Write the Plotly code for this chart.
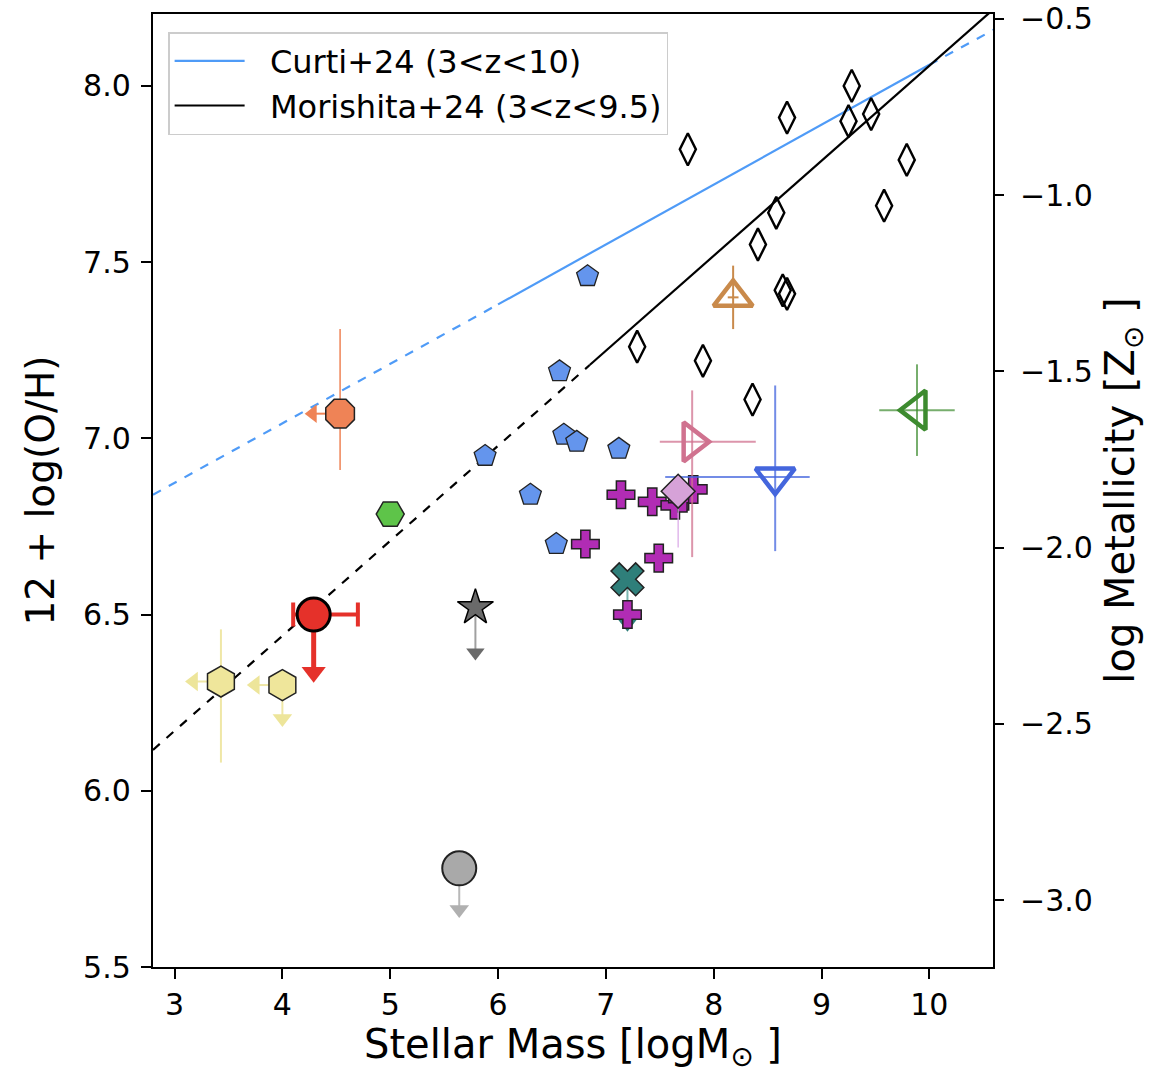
import plotly.graph_objects as go

# ---------------- data ----------------
# Scaling relations
curti_x = [2.8, 6.0, 10.0, 10.6]
curti_y = [6.84, 7.38, 8.06, 8.16]
mor_x = [2.8, 6.85, 10.6]
mor_y = [6.116, 7.208, 8.219]

# Morishita+24 individual galaxies (open thin diamonds)
mor_gal_mass = [7.76, 8.68, 9.28, 9.25, 9.46, 9.79, 9.58, 8.58, 8.41, 8.64, 8.68, 7.29, 7.90, 8.36]
mor_gal_oh = [7.82, 7.91, 8.00, 7.90, 7.92, 7.79, 7.66, 7.64, 7.55, 7.42, 7.41, 7.26, 7.22, 7.11]

# blue pentagons
pent_mass = [6.83, 6.57, 6.61, 6.73, 7.12, 5.88, 6.30, 6.54]
pent_oh = [7.46, 7.19, 7.01, 6.99, 6.97, 6.95, 6.84, 6.70]

# purple plus markers
plus_mass = [7.14, 7.43, 7.64, 7.71, 7.81, 6.81, 7.49, 7.20]
plus_oh = [6.84, 6.82, 6.81, 6.83, 6.855, 6.70, 6.66, 6.50]

# individual objects
teal_x = [7.20]; teal_y = [6.60]; teal_lim = [6.474]
lav_x = [7.67]; lav_y = [6.85]; lav_yerr_p = [0.03]; lav_yerr_m = [0.16]
pink_x = [7.80]; pink_y = [6.99]; pink_xerr_p = [0.59]; pink_xerr_m = [0.30]; pink_yerr_p = [0.146]; pink_yerr_m = [0.327]
bv_x = [8.57]; bv_y = [6.89]; bv_xerr_p = [0.32]; bv_xerr_m = [1.02]; bv_yerr_p = [0.26]; bv_yerr_m = [0.21]
br_x = [8.18]; br_y = [7.40]; br_xerr = [0.05]; br_yerr = [0.09]
gr_x = [9.885]; gr_y = [7.08]; gr_xerr = [0.35]; gr_yerr = [0.13]
oct_x = [4.535]; oct_y = [7.07]; oct_yerr_p = [0.24]; oct_yerr_m = [0.16]; oct_xlim = [4.281]
ghex_x = [5.0]; ghex_y = [6.785]
red_x = [4.29]; red_y = [6.50]; red_xerr_p = [0.41]; red_xerr_m = [0.19]; red_ylim = [6.336]
star_x = [5.79]; star_y = [6.52]; star_ylim = [6.392]
yh1_x = [3.43]; yh1_y = [6.31]; yh1_yerr_p = [0.148]; yh1_yerr_m = [0.23]; yh1_xlim = [3.176]
yh2_x = [4.0]; yh2_y = [6.30]; yh2_xlim = [3.749]; yh2_ylim = [6.205]
gc_x = [5.64]; gc_y = [5.78]; gc_ylim = [5.663]

ZSUN = 8.69  # 12+log(O/H) of the Sun, for the right axis
x_range = [2.80, 10.59]
y_range = [5.5, 8.204]
x_ticks = [3, 4, 5, 6, 7, 8, 9, 10]
y_ticks = [5.5, 6.0, 6.5, 7.0, 7.5, 8.0]
y2_ticks = [-3.0, -2.5, -2.0, -1.5, -1.0, -0.5]

FONT = "DejaVu Sans"
NB = "\u00a0"
fig = go.Figure()

def add(**kw):
    kw.setdefault("showlegend", False)
    kw.setdefault("hoverinfo", "skip")
    fig.add_trace(go.Scatter(**kw))

# relations
BLUE = "#4f9bf7"
add(x=curti_x[:2], y=curti_y[:2], mode="lines", line=dict(color=BLUE, width=2.2, dash="dash"))
add(x=curti_x[1:3], y=curti_y[1:3], mode="lines", line=dict(color=BLUE, width=2.2),
    name=NB * 2 + "Curti+24 (3<z<10)", showlegend=True)
add(x=curti_x[2:], y=curti_y[2:], mode="lines", line=dict(color=BLUE, width=2.2, dash="dash"))
add(x=mor_x[:2], y=mor_y[:2], mode="lines", line=dict(color="black", width=2.2, dash="dash"))
add(x=mor_x[1:], y=mor_y[1:], mode="lines", line=dict(color="black", width=2.2),
    name=NB * 2 + "Morishita+24 (3<z<9.5)", showlegend=True)

# Morishita galaxies
add(x=mor_gal_mass, y=mor_gal_oh, mode="markers",
    marker=dict(symbol="diamond-tall-open", size=23, color="black", line=dict(width=2.4, color="black")))

# limit arrows (lines then heads)
def vlim(x, y, yl, lcol, hcol, lw, hs):
    add(x=[x[0], x[0]], y=[y[0], yl[0]], mode="lines", line=dict(color=lcol, width=lw))
    add(x=x, y=yl, mode="markers", marker=dict(symbol="triangle-down", size=hs, color=hcol, line=dict(width=0)))

def hlim(x, y, xl, lcol, hcol, lw, hs):
    add(x=[x[0], xl[0]], y=[y[0], y[0]], mode="lines", line=dict(color=lcol, width=lw))
    add(x=xl, y=y, mode="markers", marker=dict(symbol="triangle-left", size=hs, color=hcol, line=dict(width=0)))

vlim(gc_x, gc_y, gc_ylim, "#b8b8b8", "#b0b0b0", 2, 17)
vlim(star_x, star_y, star_ylim, "#a0a0a0", "#6a6a6a", 2, 16)
vlim(yh2_x, yh2_y, yh2_ylim, "#efe7a6", "#ede59a", 2, 17)
hlim(yh2_x, yh2_y, yh2_xlim, "#efe7a6", "#ede59a", 2, 17)
hlim(yh1_x, yh1_y, yh1_xlim, "#efe7a6", "#ede59a", 2, 17)
hlim(oct_x, oct_y, oct_xlim, "#ef8356", "#ef8356", 2, 16)
vlim(red_x, red_y, red_ylim, "#e5312a", "#e5312a", 5, 21)
vlim(teal_x, teal_y, teal_lim, "#7ab7b1", "#2f7f7a", 2, 16)

# pentagons
add(x=pent_mass, y=pent_oh, mode="markers",
    marker=dict(symbol="pentagon", size=23, color="#6495ed", line=dict(width=1.3, color="#222222")))
# plus markers
add(x=plus_mass, y=plus_oh, mode="markers",
    marker=dict(symbol="cross", size=23, color="#b12cb4", line=dict(width=1.5, color="#222222")))
# teal X
add(x=teal_x, y=teal_y, mode="markers",
    marker=dict(symbol="x", size=29, color="#2f7f7a", line=dict(width=1.5, color="#222222")))

# open triangles with error bars
TRI = 34
add(x=pink_x, y=pink_y, mode="markers",
    marker=dict(symbol="triangle-right-open", size=TRI, color="#d0728f", line=dict(width=4.5, color="#d0728f")),
    error_x=dict(type="data", symmetric=False, array=pink_xerr_p, arrayminus=pink_xerr_m,
                 color="rgba(208,114,143,0.75)", thickness=2, width=0),
    error_y=dict(type="data", symmetric=False, array=pink_yerr_p, arrayminus=pink_yerr_m,
                 color="rgba(208,114,143,0.75)", thickness=2, width=0))
add(x=bv_x, y=bv_y, mode="markers",
    marker=dict(symbol="triangle-down-open", size=TRI, color="#4466dd", line=dict(width=4.5, color="#4466dd")),
    error_x=dict(type="data", symmetric=False, array=bv_xerr_p, arrayminus=bv_xerr_m,
                 color="rgba(68,102,221,0.75)", thickness=2, width=0),
    error_y=dict(type="data", symmetric=False, array=bv_yerr_p, arrayminus=bv_yerr_m,
                 color="rgba(68,102,221,0.75)", thickness=2, width=0))
add(x=br_x, y=br_y, mode="markers",
    marker=dict(symbol="triangle-up-open", size=TRI, color="#c98a4b", line=dict(width=4.5, color="#c98a4b")),
    error_x=dict(type="data", array=br_xerr, color="#c98a4b", thickness=2, width=0),
    error_y=dict(type="data", array=br_yerr, color="#c98a4b", thickness=2, width=0))
add(x=gr_x, y=gr_y, mode="markers",
    marker=dict(symbol="triangle-left-open", size=TRI, color="#3d8b2f", line=dict(width=4.5, color="#3d8b2f")),
    error_x=dict(type="data", array=gr_xerr, color="rgba(61,139,47,0.7)", thickness=2, width=0),
    error_y=dict(type="data", array=gr_yerr, color="rgba(61,139,47,0.7)", thickness=2, width=0))

# lavender diamond
add(x=lav_x, y=lav_y, mode="markers",
    marker=dict(symbol="diamond", size=26, color="#d6a2d8", line=dict(width=1.5, color="#222222")),
    error_y=dict(type="data", symmetric=False, array=lav_yerr_p, arrayminus=lav_yerr_m,
                 color="#d9a6e6", thickness=1.2, width=0))

# low-mass objects
add(x=oct_x, y=oct_y, mode="markers",
    marker=dict(symbol="octagon", size=31, color="#ef8356", line=dict(width=1.5, color="#222222")),
    error_y=dict(type="data", symmetric=False, array=oct_yerr_p, arrayminus=oct_yerr_m,
                 color="#ef8356", thickness=1.5, width=0))
add(x=ghex_x, y=ghex_y, mode="markers",
    marker=dict(symbol="hexagon2", size=28, color="#5ec449", line=dict(width=1.5, color="#222222")))
add(x=yh1_x, y=yh1_y, mode="markers",
    marker=dict(symbol="hexagon", size=31, color="#efe69b", line=dict(width=1.5, color="#222222")),
    error_y=dict(type="data", symmetric=False, array=yh1_yerr_p, arrayminus=yh1_yerr_m,
                 color="#efe7a6", thickness=2, width=0))
add(x=yh2_x, y=yh2_y, mode="markers",
    marker=dict(symbol="hexagon", size=31, color="#efe69b", line=dict(width=1.5, color="#222222")))
add(x=red_x, y=red_y, mode="markers",
    marker=dict(symbol="circle", size=33, color="#e5312a", line=dict(width=3, color="black")),
    error_x=dict(type="data", symmetric=False, array=red_xerr_p, arrayminus=red_xerr_m,
                 color="#e5312a", thickness=4, width=12))
add(x=star_x, y=star_y, mode="markers",
    marker=dict(symbol="star", size=27, color="#6a6a6a", line=dict(width=1.5, color="black")))
add(x=gc_x, y=gc_y, mode="markers",
    marker=dict(symbol="circle", size=34, color="#a9a9a9", line=dict(width=2, color="#222222")))

# dummy trace for right axis
add(x=[x_range[0]], y=[y_range[0] - ZSUN], yaxis="y2", mode="markers", marker=dict(opacity=0))

tickfont = dict(family=FONT, size=30, color="black")
fig.update_layout(
    width=1163, height=1073,
    margin=dict(l=153, r=170, t=14, b=106, autoexpand=False),
    paper_bgcolor="white", plot_bgcolor="white",
    font=dict(family=FONT, color="black"),
    xaxis=dict(range=x_range, tickvals=x_ticks, ticks="outside", ticklen=10, tickwidth=2,
               tickcolor="black", showgrid=False, zeroline=False, showline=True, linecolor="black",
               linewidth=2.4, mirror=True, tickfont=tickfont, automargin=False,
               title=dict(text="Stellar Mass [logM<sub>⊙</sub> ]", font=dict(family=FONT, size=40),
                          standoff=16)),
    yaxis=dict(range=y_range, tickvals=y_ticks, tickformat=".1f", ticks="outside", ticklen=10,
               tickwidth=2, tickcolor="black", showgrid=False, zeroline=False, showline=True,
               linecolor="black", linewidth=2.4, mirror=True, tickfont=tickfont, automargin=False,
               ticklabelstandoff=4,
               title=dict(text="12 + log(O/H)", font=dict(family=FONT, size=39), standoff=16)),
    yaxis2=dict(range=[y_range[0] - ZSUN, y_range[1] - ZSUN], tickvals=y2_ticks, tickformat=".1f",
                overlaying="y", side="right", ticks="outside", ticklen=10, tickwidth=2,
                tickcolor="black", showgrid=False, zeroline=False, showline=False, tickfont=tickfont,
                automargin=False, ticklabelstandoff=10,
                title=dict(text="log Metallicity [Z<sub>⊙</sub> ]", font=dict(family=FONT, size=40),
                           standoff=14)),
    legend=dict(x=0.018, y=0.981, xanchor="left", yanchor="top", bgcolor="white",
                bordercolor="#cccccc", borderwidth=1.5, font=dict(family=FONT, size=32),
                itemwidth=70, tracegroupgap=0),
)

fig.write_html("out.html")
